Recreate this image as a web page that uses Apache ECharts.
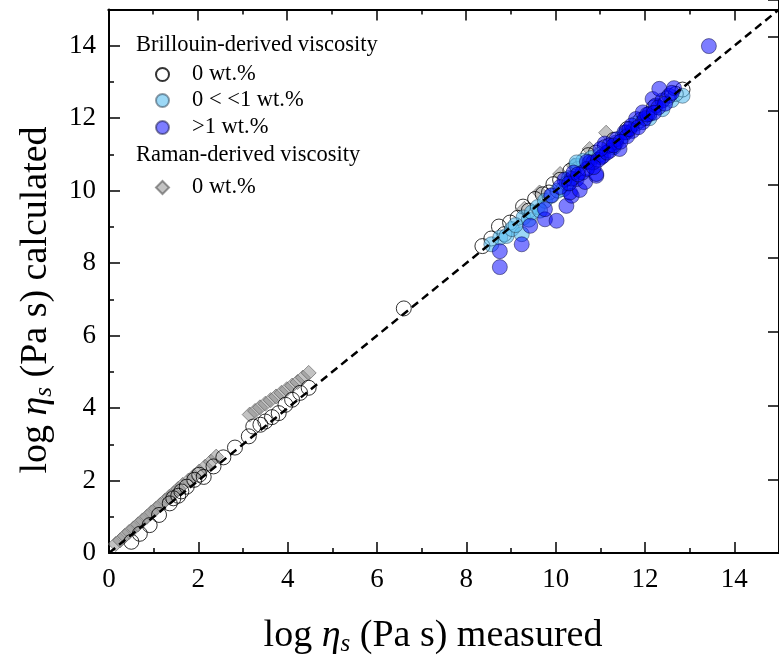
<!DOCTYPE html>
<html>
<head>
<meta charset="utf-8">
<script src="https://cdn.jsdelivr.net/npm/echarts@6/dist/echarts.min.js"></script>
<style>
html,body{margin:0;padding:0;background:#fff;}
#chart{width:779px;height:668px;}
</style>
</head>
<body>
<div id="chart"></div>
<script>
// ---- data (log10 viscosity, measured vs calculated) ----
const brillouinNoWater = [
  [0.50,0.31],[0.69,0.53],[0.91,0.77],[1.12,1.05],[1.36,1.37],[1.44,1.51],[1.55,1.58],[1.62,1.70],
  [1.74,1.83],[1.91,2.02],[2.02,2.16],[2.12,2.10],[2.34,2.39],[2.56,2.64],[2.82,2.91],[3.13,3.22],
  [3.23,3.49],[3.39,3.54],[3.50,3.63],[3.65,3.75],[3.80,3.86],[3.95,4.09],[4.10,4.23],[4.28,4.42],
  [4.47,4.56],[6.60,6.75],
  [8.36,8.47],[8.56,8.68],[8.73,9.01],[8.85,8.80],[8.98,9.12],[9.15,9.25],[9.27,9.56],[9.40,9.45],
  [9.54,9.77],[9.71,9.90],[9.85,9.95],[9.95,10.18],[10.10,10.30],[10.33,10.55],[10.50,10.60],
  [10.73,10.98],[10.90,11.05],[11.10,11.20],[11.30,11.40],[11.60,11.70],[11.90,11.95],[12.20,12.30],
  [12.50,12.55],[12.69,12.67],[12.84,12.79]
];
const brillouinLowWater = [
  [8.56,8.52],[8.76,8.71],[8.90,8.75],[9.02,8.94],[9.24,8.80],[9.28,9.26],[9.40,9.20],[9.47,9.40],
  [9.60,9.55],[9.76,9.72],[9.91,9.86],[10.05,10.00],[10.17,10.04],[10.30,10.35],[10.47,10.69],
  [10.62,10.83],[10.47,10.78],[10.80,10.90],[11.00,11.00],[11.30,11.20],[11.50,11.50],[11.80,11.85],
  [12.10,12.00],[12.39,12.25],[12.60,12.50],[12.84,12.62],[9.10,9.05],[9.65,9.45],[10.25,10.20]
];
const brillouinHighWater = [
  [8.75,7.89],[8.75,8.33],[9.24,8.52],[9.43,9.03],[9.76,9.21],[9.76,9.49],[10.02,9.17],[10.24,9.58],
  [10.36,9.86],[10.32,9.95],[10.54,10.02],[10.47,10.32],[10.66,10.24],[10.36,10.33],[10.91,10.41],
  [10.91,10.46],[10.76,10.78],[10.84,10.78],[11.02,10.92],[11.06,10.96],[11.21,11.10],[11.43,11.15],
  [11.35,11.33],[11.36,11.42],[11.54,11.61],[11.58,11.61],[11.72,11.65],[11.80,11.98],[11.95,11.89],
  [11.95,12.16],[12.10,12.12],[12.17,12.53],[12.24,12.35],[12.39,12.49],[12.32,12.81],[12.54,12.62],
  [12.65,12.83],[13.43,13.99],[10.60,10.50],[10.70,10.60],[11.10,11.30],[11.20,11.25],[11.60,11.50],
  [11.70,11.80],[12.00,12.00],[12.30,12.30],[10.20,10.30],[10.40,10.50],[9.90,9.87],
  [10.10,10.10],[10.30,10.20],[10.50,10.45],[10.70,10.80],[10.95,10.85],[11.15,11.05],[11.30,11.25],
  [11.45,11.35],[11.65,11.70],[11.85,11.75],[12.05,12.10],[12.20,12.15],[12.45,12.40],[12.60,12.70],
  [11.00,11.15],[10.85,10.65]
];
const ramanNoWater = [
  [0.15,0.25],[0.25,0.35],[0.35,0.47],[0.45,0.58],[0.55,0.68],[0.65,0.79],[0.75,0.90],[0.85,1.00],
  [0.95,1.12],[1.05,1.22],[1.15,1.33],[1.25,1.44],[1.35,1.55],[1.45,1.65],[1.55,1.77],[1.65,1.88],
  [1.78,2.00],[1.90,2.12],[2.02,2.25],[2.15,2.38],[2.28,2.52],[2.40,2.66],
  [3.15,3.82],[3.27,3.92],[3.38,4.02],[3.50,4.12],[3.62,4.22],[3.74,4.32],[3.86,4.42],[3.98,4.52],
  [4.10,4.62],[4.22,4.72],[4.34,4.84],[4.47,4.97],
  [9.30,9.50],[9.64,9.95],[10.10,10.46],[10.40,10.70],[10.76,11.15],[11.13,11.60]
];
const oneToOne = [[0,0],[15,15]];
const axisMin = 0, axisMax = 15, majorStep = 2, minorStep = 1;
const seriesNames = ['Brillouin 0 wt.%','0 < <1 wt.%','>1 wt.%','Raman 0 wt.%'];
const legendHeaders = ['Brillouin-derived viscosity','Raman-derived viscosity'];

const FONT = "'Liberation Serif','Times New Roman',serif";
const chart = echarts.init(document.getElementById('chart'), null, {renderer:'canvas'});

function majorAxis(extra){
  return Object.assign({
    type:'value', min:axisMin, max:axisMax, interval:majorStep,
    axisLine:{show:true,onZero:false,lineStyle:{color:'#000',width:2}},
    axisTick:{show:true,inside:true,length:11,lineStyle:{color:'#000',width:1.5}},
    splitLine:{show:false}
  }, extra);
}
function minorAxis(extra){
  return Object.assign({
    type:'value', min:axisMin, max:axisMax, interval:minorStep,
    axisLine:{show:false,onZero:false},
    axisTick:{show:true,inside:true,length:5,lineStyle:{color:'#000',width:1.5}},
    axisLabel:{show:false}, splitLine:{show:false}
  }, extra);
}
const legendFmt = n => n.replace('Brillouin ','').replace('Raman ','');
function legendAt(name, top){
  return {data:[name], left:155, top:top, orient:'vertical', padding:0,
    itemWidth:13, itemHeight:13, formatter:legendFmt, selectedMode:false,
    textStyle:{fontFamily:FONT,fontSize:22.5,color:'#000',padding:[0,0,0,18]}};
}
const tickLabel = {show:true,color:'#000',fontFamily:FONT,fontSize:27,showMaxLabel:false};

const option = {
  backgroundColor:'#fff',
  animation:false,
  grid:[
    {left:109, top:9.5, width:675, height:543.5},
    {left:108.3, top:9.5, width:700, height:100},
    {left:109, top:-9.5, width:675, height:562.5}
  ],
  xAxis:[
    majorAxis({gridIndex:0, position:'bottom', axisLabel:Object.assign({margin:13}, tickLabel)}),
    minorAxis({gridIndex:0, position:'bottom'}),
    {type:'value', gridIndex:1, position:'top', min:axisMin, max:axisMax, interval:majorStep,
     axisLine:{show:true,onZero:false,lineStyle:{color:'#000',width:2}},
     axisTick:{show:true,inside:true,length:11,lineStyle:{color:'#000',width:1.5}},
     minorTick:{show:true,splitNumber:2,length:5,lineStyle:{color:'#000',width:1.5}},
     axisLabel:{show:false}, splitLine:{show:false}},
    {type:'value', gridIndex:2, show:false, min:0, max:1}
  ],
  yAxis:[
    majorAxis({gridIndex:0, position:'left', axisLabel:Object.assign({margin:13}, tickLabel)}),
    minorAxis({gridIndex:0, position:'left'}),
    {type:'value', gridIndex:1, show:false, min:0, max:1},
    {type:'value', gridIndex:2, position:'right', min:axisMin, max:axisMax, interval:majorStep,
     axisLine:{show:true,onZero:false,lineStyle:{color:'#000',width:2}},
     axisTick:{show:true,inside:true,length:11,lineStyle:{color:'#000',width:1.5}},
     axisLabel:{show:false}, splitLine:{show:false}}
  ],
  legend:[
    legendAt(seriesNames[0], 63),
    legendAt(seriesNames[1], 89),
    legendAt(seriesNames[2], 116),
    legendAt(seriesNames[3], 176)
  ],
  graphic:[
    {type:'text', left:136, top:34, style:{text:legendHeaders[0], font:'22.5px '+FONT, fill:'#000'}},
    {type:'text', left:136, top:144, style:{text:legendHeaders[1], font:'22.5px '+FONT, fill:'#000'}},
    {type:'text', x:433, y:636, style:{
      text:'{a|log }{e|η}{s|s}{a| (Pa s) measured}', align:'center', verticalAlign:'middle',
      rich:{a:{fontFamily:FONT,fontSize:38,fill:'#000'},
            e:{fontFamily:FONT,fontSize:38,fontStyle:'italic',fill:'#000'},
            s:{fontFamily:FONT,fontSize:25,fontStyle:'italic',fill:'#000',padding:[16,0,0,0]}}}},
    {type:'text', x:36, y:300, rotation:Math.PI/2, style:{
      text:'{a|log }{e|η}{s|s}{a| (Pa s) calculated}', align:'center', verticalAlign:'middle',
      rich:{a:{fontFamily:FONT,fontSize:38,fill:'#000'},
            e:{fontFamily:FONT,fontSize:38,fontStyle:'italic',fill:'#000'},
            s:{fontFamily:FONT,fontSize:25,fontStyle:'italic',fill:'#000',padding:[16,0,0,0]}}}}
  ],
  series:[
    {name:seriesNames[3], type:'scatter', data:ramanNoWater, symbol:'diamond', symbolSize:15,
     itemStyle:{color:'rgba(140,140,140,0.65)', borderColor:'rgba(90,90,90,0.8)', borderWidth:1}, z:2},
    {name:seriesNames[0], type:'scatter', data:brillouinNoWater, symbol:'circle', symbolSize:15,
     itemStyle:{color:'rgba(255,255,255,0)', borderColor:'#000', borderWidth:1}, z:3},
    {name:seriesNames[1], type:'scatter', data:brillouinLowWater, symbol:'circle', symbolSize:15,
     itemStyle:{color:'rgba(90,190,240,0.75)', borderColor:'rgba(30,50,70,0.6)', borderWidth:1}, z:4},
    {name:seriesNames[2], type:'scatter', data:brillouinHighWater, symbol:'circle', symbolSize:15,
     itemStyle:{color:'rgba(0,0,255,0.64)', borderColor:'rgba(0,0,50,0.6)', borderWidth:1}, z:5},
    {name:'1:1', type:'line', data:oneToOne, symbol:'none', silent:true, z:10,
     lineStyle:{color:'#000', width:2.5, type:[8,5]}}
  ]
};
chart.setOption(option);
</script>
</body>
</html>
